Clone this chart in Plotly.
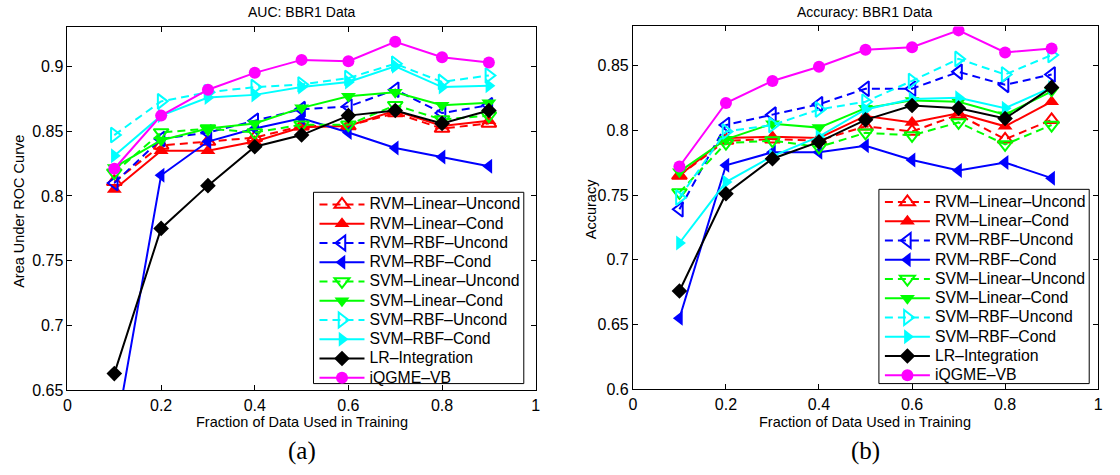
import plotly.graph_objects as go

x_frac = [0.1, 0.2, 0.3, 0.4, 0.5, 0.6, 0.7, 0.8, 0.9]

series_names = ["RVM–Linear–Uncond", "RVM–Linear–Cond", "RVM–RBF–Uncond", "RVM–RBF–Cond",
                "SVM–Linear–Uncond", "SVM–Linear–Cond", "SVM–RBF–Uncond", "SVM–RBF–Cond",
                "LR–Integration", "iQGME–VB"]

# AUC (left panel)
auc_rvm_lin_uncond = [0.811, 0.839, 0.842, 0.845, 0.854, 0.854, 0.864, 0.852, 0.856]
auc_rvm_lin_cond   = [0.805, 0.835, 0.835, 0.842, 0.853, 0.854, 0.866, 0.854, 0.858]
auc_rvm_rbf_uncond = [0.810, 0.844, 0.849, 0.858, 0.867, 0.869, 0.882, 0.864, 0.870]
auc_rvm_rbf_cond   = [0.611, 0.816, 0.842, 0.852, 0.860, 0.849, 0.837, 0.830, 0.823]
auc_svm_lin_uncond = [0.818, 0.849, 0.852, 0.849, 0.855, 0.855, 0.870, 0.859, 0.862]
auc_svm_lin_cond   = [0.822, 0.843, 0.852, 0.856, 0.868, 0.877, 0.880, 0.870, 0.872]
auc_svm_rbf_uncond = [0.847, 0.873, 0.880, 0.884, 0.886, 0.891, 0.902, 0.888, 0.893]
auc_svm_rbf_cond   = [0.831, 0.862, 0.876, 0.878, 0.884, 0.888, 0.900, 0.884, 0.885]
auc_lr_integration = [0.663, 0.775, 0.808, 0.838, 0.847, 0.862, 0.866, 0.856, 0.866]
auc_iqgme_vb       = [0.821, 0.862, 0.882, 0.895, 0.905, 0.904, 0.919, 0.907, 0.903]

# Accuracy (right panel)
acc_rvm_lin_uncond = [0.765, 0.792, 0.793, 0.792, 0.803, 0.799, 0.812, 0.793, 0.808]
acc_rvm_lin_cond   = [0.765, 0.794, 0.795, 0.794, 0.811, 0.806, 0.813, 0.803, 0.822]
acc_rvm_rbf_uncond = [0.739, 0.804, 0.812, 0.820, 0.832, 0.832, 0.845, 0.835, 0.843]
acc_rvm_rbf_cond   = [0.655, 0.773, 0.783, 0.783, 0.788, 0.777, 0.769, 0.775, 0.763]
acc_svm_lin_uncond = [0.752, 0.790, 0.792, 0.787, 0.798, 0.796, 0.806, 0.789, 0.804]
acc_svm_lin_cond   = [0.768, 0.793, 0.805, 0.802, 0.817, 0.823, 0.822, 0.812, 0.830]
acc_svm_rbf_uncond = [0.748, 0.799, 0.804, 0.816, 0.822, 0.838, 0.855, 0.843, 0.858]
acc_svm_rbf_cond   = [0.713, 0.760, 0.780, 0.795, 0.816, 0.824, 0.825, 0.817, 0.833]
acc_lr_integration = [0.676, 0.751, 0.778, 0.791, 0.808, 0.819, 0.817, 0.809, 0.833]
acc_iqgme_vb       = [0.772, 0.821, 0.838, 0.849, 0.862, 0.864, 0.877, 0.860, 0.863]

auc_series = [auc_rvm_lin_uncond, auc_rvm_lin_cond, auc_rvm_rbf_uncond, auc_rvm_rbf_cond,
              auc_svm_lin_uncond, auc_svm_lin_cond, auc_svm_rbf_uncond, auc_svm_rbf_cond,
              auc_lr_integration, auc_iqgme_vb]
acc_series = [acc_rvm_lin_uncond, acc_rvm_lin_cond, acc_rvm_rbf_uncond, acc_rvm_rbf_cond,
              acc_svm_lin_uncond, acc_svm_lin_cond, acc_svm_rbf_uncond, acc_svm_rbf_cond,
              acc_lr_integration, acc_iqgme_vb]

colors = ["#FF0000", "#FF0000", "#0000FF", "#0000FF", "#00FF00", "#00FF00",
          "#00FFFF", "#00FFFF", "#000000", "#FF00FF"]
symbols = ["triangle-up-open", "triangle-up", "triangle-left-open", "triangle-left",
           "triangle-down-open", "triangle-down", "triangle-right-open", "triangle-right",
           "diamond", "circle"]
dashes = ["8px,5px", "solid", "8px,5px", "solid", "8px,5px", "solid",
          "8px,5px", "solid", "solid", "solid"]
sizes = [13, 13, 13, 13, 13, 13, 13, 13, 12, 12]

FONT = "Liberation Sans, Arial, Helvetica, sans-serif"

fig = go.Figure()
for panel, data, xa, ya, lg in [(0, auc_series, "x", "y", "legend"),
                                (1, acc_series, "x2", "y2", "legend2")]:
    for i, name in enumerate(series_names):
        fig.add_trace(go.Scatter(
            x=x_frac, y=data[i], mode="lines+markers",
            name='<span style="font-size:15.8px">' + name + '</span>',
            xaxis=xa, yaxis=ya, legend=lg,
            line=dict(color=colors[i], width=2, dash=dashes[i]),
            marker=dict(symbol=symbols[i], size=sizes[i], color=colors[i],
                        line=dict(color=colors[i], width=2 if "open" in symbols[i] else 0)),
        ))

W, H = 1120, 475

def xdom(a, b):
    return [a / W, b / W]

def ydom(top, bottom):
    return [(H - bottom) / H, (H - top) / H]

axis_common = dict(showgrid=False, zeroline=False, showline=True, linecolor="black",
                   linewidth=1, mirror="ticks", ticks="inside", ticklen=5,
                   tickcolor="black", tickfont=dict(family=FONT, size=16, color="black"))

legend_common = dict(bgcolor="rgba(0,0,0,0)", borderwidth=0,
                     font=dict(family=FONT, size=12.5, color="black"),
                     xanchor="left", yanchor="top", itemwidth=45,
                     tracegroupgap=0)

fig.update_layout(
    width=W, height=H, margin=dict(l=0, r=0, t=0, b=0),
    paper_bgcolor="white", plot_bgcolor="rgba(0,0,0,0)",
    xaxis=dict(domain=xdom(64, 536), range=[0, 1], dtick=0.2, anchor="y", **axis_common),
    yaxis=dict(domain=ydom(28, 398), range=[0.65, 0.93], tickvals=[0.65, 0.7, 0.75, 0.8, 0.85, 0.9],
               anchor="x", **axis_common),
    xaxis2=dict(domain=xdom(634, 1103), range=[0, 1], dtick=0.2, anchor="y2", **axis_common),
    yaxis2=dict(domain=ydom(27, 397), range=[0.6, 0.88], tickvals=[0.6, 0.65, 0.7, 0.75, 0.8, 0.85],
                anchor="x2", **axis_common),
    legend=dict(x=313 / W, y=(H - 193.5) / H, **legend_common),
    legend2=dict(x=883 / W, y=(H - 191) / H, **legend_common),
    showlegend=True,
)

# legend frames (opaque white boxes with black border, as in the original)
for (x0, x1, y0, y1) in [(312, 524, 196, 391), (882, 1094, 193, 391)]:
    fig.add_shape(type="rect", xref="paper", yref="paper",
                  x0=x0 / W, x1=x1 / W, y0=(H - y1) / H, y1=(H - y0) / H,
                  line=dict(color="black", width=1), fillcolor="white", layer="above")

annots = [
    dict(text="AUC: BBR1 Data", x=300, y=12, size=14, fam=FONT, angle=0),
    dict(text="Accuracy: BBR1 Data", x=868, y=12, size=14, fam=FONT, angle=0),
    dict(text="Fraction of Data Used in Training", x=300, y=430, size=14.5, fam=FONT, angle=0),
    dict(text="Fraction of Data Used in Training", x=868, y=430, size=14.5, fam=FONT, angle=0),
    dict(text="Area Under ROC Curve", x=15, y=215, size=14.5, fam=FONT, angle=-90),
    dict(text="Accuracy", x=592, y=213, size=14.5, fam=FONT, angle=-90),
    dict(text="(a)", x=300, y=460, size=25, fam="Liberation Serif, Times New Roman, serif", angle=0),
    dict(text="(b)", x=868, y=460, size=25, fam="Liberation Serif, Times New Roman, serif", angle=0),
]
for a in annots:
    fig.add_annotation(text=a["text"], x=a["x"] / W, y=(H - a["y"]) / H, xref="paper", yref="paper",
                       showarrow=False, xanchor="center", yanchor="middle", textangle=a["angle"],
                       font=dict(family=a["fam"], size=a["size"], color="black"))

fig.write_html("out.html")
